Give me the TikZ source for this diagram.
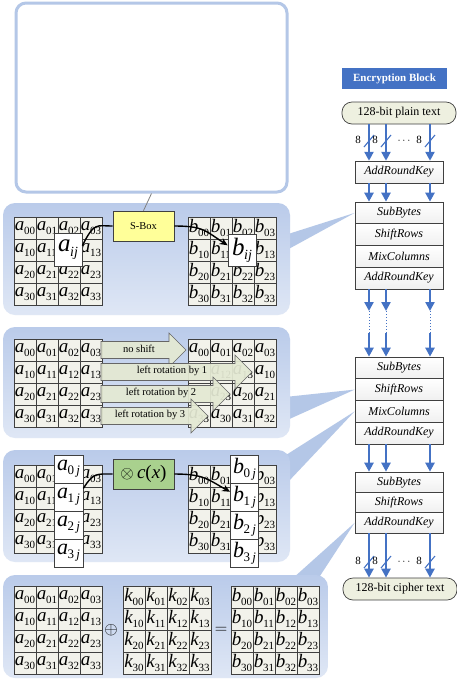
\documentclass[tikz,border=0pt]{standalone}
\usepackage{fontspec}
\setmainfont{Liberation Serif}
\usetikzlibrary{arrows.meta}
\definecolor{pedge}{HTML}{B4C7E7}
\definecolor{ptop}{HTML}{BACBEA}
\definecolor{pbot}{HTML}{DFE7F5}
\definecolor{cellf}{HTML}{F2F2EB}
\definecolor{gline}{HTML}{404040}
\definecolor{aro}{HTML}{4472C4}
\definecolor{sarr}{HTML}{E4E9D3}
\definecolor{sboxf}{HTML}{FFFF99}
\definecolor{mixf}{HTML}{A9D18E}
\definecolor{pillf}{HTML}{EEF0E0}
\definecolor{tailf}{HTML}{B4C7E7}
\newcommand\cellt[2]{{\fontsize{19}{19}\selectfont\itshape #1}\kern-0.3pt\raisebox{-3.5pt}{\fontsize{11}{11}\selectfont #2}}
\newcommand\bigt[2]{{\fontsize{25}{25}\selectfont\itshape #1}\kern-0.3pt\raisebox{-4.5pt}{\fontsize{14}{14}\selectfont\itshape #2}}
\newcommand\colt[2]{{\fontsize{22}{22}\selectfont\itshape #1}\kern-0.3pt\raisebox{-4pt}{\fontsize{13}{13}\selectfont #2\,\itshape j}}
% #1 name, #2 x0, #3 y0, #4 letter, #5 row shift, #6 blank condition (pgfmath, uses \ri \ci)
\newcommand\mygrid[6]{\foreach \ri in {0,...,3}{\foreach \ci in {0,...,3}{\pgfmathtruncatemacro\mysc{mod(\ci+#5*\ri,4)}\pgfmathtruncatemacro\myblank{#6}\node[cellbox] (#1-\ri\ci) at ({#2+(\ci+0.5)*22},{#3+(\ri+0.5)*22}) {\ifnum\myblank=1 \else\cellt{#4}{\ri\mysc}\fi};}}}
\newcommand\shiftarr[4]{\draw[sharrow] (101,{#1-8.5}) -- ({#2-17},{#1-8.5}) -- ({#2-17},{#1-17}) -- (#2,#1) -- ({#2-17},{#1+17}) -- ({#2-17},{#1+8.5}) -- (101,{#1+8.5}) -- cycle;
\node[shtext] (#4) at ({(101+#2-17)/2+4},{#1-1.5}) {#3};}
\begin{document}
\begin{tikzpicture}[x=1pt,y=-1pt,
  panel/.style={rounded corners=12pt, top color=ptop, bottom color=pbot, draw=none, inner sep=0pt},
  cellbox/.style={draw=gline, fill=cellf, line width=0.7pt, inner sep=0pt, minimum width=22pt, minimum height=22pt},
  hlbox/.style={draw=gline, fill=white, line width=0.7pt, inner sep=0pt},
  sboxst/.style={draw=gline, line width=0.7pt, fill=sboxf, minimum width=61pt, minimum height=30pt, font=\fontsize{10.5}{12}\selectfont},
  mixst/.style={draw=gline, line width=0.7pt, fill=mixf, minimum width=61pt, minimum height=30pt, font=\fontsize{19}{20}\selectfont},
  conn/.style={line width=1.4pt, black},
  sharrow/.style={draw=gray!80!black, line width=0.6pt, fill=sarr, fill opacity=0.93},
  shtext/.style={font=\fontsize{10.5}{12}\selectfont, inner sep=0pt},
  rowbox/.style={draw=gline, line width=0.7pt, top color=white, bottom color=black!6, minimum width=88pt, minimum height=21.75pt, inner sep=0pt, font=\fontsize{12}{14}\selectfont\itshape},
  pill/.style={draw=gline, line width=0.7pt, fill=pillf, rounded corners=10pt, minimum width=114pt, minimum height=22pt, font=\fontsize{12}{14}\selectfont},
  barrow/.style={draw=aro, line width=2.4pt, -{Triangle[width=9pt,length=9pt]}},
  bdot/.style={draw=aro, line width=1pt, dotted},
  slash/.style={draw=aro, line width=1.1pt},
  lab/.style={font=\fontsize{11}{12}\selectfont, inner sep=0pt},
  tail/.style={fill=tailf, draw=none}]
\useasboundingbox (0,0) rectangle (457,681);
\fill[white] (0,0) rectangle (457,681);

% ---------- top empty callout ----------
\node[draw=pedge, line width=3pt, rounded corners=10pt, fill=white, minimum width=271pt, minimum height=189pt] (topbox) at (151.5,97.5) {};

% ---------- right column ----------
\node[fill=aro, minimum width=105pt, minimum height=21pt, text=white, font=\fontsize{11}{12}\selectfont\bfseries] (hdr) at (394.5,78.5) {Encryption Block};
\node[pill] (plain) at (399,113) {128-bit plain text};
\node[rowbox] (ark0) at (399,172) {AddRoundKey};
\node[rowbox] (b1r1) at (399,212.9) {SubBytes};
\node[rowbox] (b1r2) at (399,234.6) {ShiftRows};
\node[rowbox] (b1r3) at (399,256.4) {MixColumns};
\node[rowbox] (b1r4) at (399,278.1) {AddRoundKey};
\node[rowbox] (b2r1) at (399,367.9) {SubBytes};
\node[rowbox] (b2r2) at (399,389.6) {ShiftRows};
\node[rowbox] (b2r3) at (399,411.4) {MixColumns};
\node[rowbox] (b2r4) at (399,433.1) {AddRoundKey};
\node[rowbox, minimum height=20.33pt] (b3r1) at (399,482.2) {SubBytes};
\node[rowbox, minimum height=20.33pt] (b3r2) at (399,502.5) {ShiftRows};
\node[rowbox, minimum height=20.33pt] (b3r3) at (399,522.8) {AddRoundKey};
\node[pill] (cipher) at (400,589) {128-bit cipher text};

% ---------- callout tails ----------
\coordinate (t1a) at (285,235); \coordinate (t1b) at (285,251);
\coordinate (t2a) at (285,397); \coordinate (t2b) at (285,421);
\coordinate (t3a) at (286,455); \coordinate (t3b) at (288,482);
\coordinate (t4a) at (292,579); \coordinate (t4b) at (318,579);
\fill[tail] (t1a) -- (b1r1.west) -- (t1b) -- cycle;
\fill[tail] (t2a) -- (b2r2.west) -- (t2b) -- cycle;
\fill[tail] (t3a) -- (b2r3.west) -- (t3b) -- cycle;
\fill[tail] (t4a) -- (b3r3.west) -- (t4b) -- cycle;

% ---------- panels ----------
\node[panel, minimum width=287pt, minimum height=112pt] (p1) at (146.5,259) {};
\node[panel, minimum width=287pt, minimum height=111pt] (p2) at (146.5,382.5) {};
\node[panel, minimum width=287pt, minimum height=112pt] (p3) at (146.5,506) {};
\node[panel, minimum width=325pt, minimum height=103pt] (p4) at (165.5,626.5) {};

% ---------- panel 1: SubBytes ----------
\mygrid{g1}{14}{217}{a}{0}{and(\ci==2,\ri==1)}
\mygrid{g2}{188}{217}{b}{0}{and(\ci==2,\ri==1)}
\node[hlbox, minimum width=28pt, minimum height=33pt] (aij) at (68,249.5) {\bigt{a}{ij}};
\node[hlbox, minimum width=28pt, minimum height=32pt] (bij) at (242,250.5) {\bigt{b}{ij}};
\node[sboxst] (sbox) at (143.5,226) {S-Box};
\draw[gray, line width=0.8pt] (topbox.south) -- (sbox.north);
\draw[conn] (aij.15) .. controls +(12,-24) and +(-16,0) .. (sbox.west);
\draw[conn,-{Stealth[length=8pt,width=7pt]}] (sbox.east) .. controls +(30,0) and +(-22,-14) .. (bij.160);

% ---------- panel 2: ShiftRows ----------
\mygrid{g3}{14}{339}{a}{0}{0}
\mygrid{g4}{188}{339}{a}{1}{and(\ci==0,or(\ri==1,\ri==2))}
\shiftarr{350}{186}{no shift}{s0}
\shiftarr{372}{252}{left rotation by 1}{s1}
\shiftarr{394}{230}{left rotation by 2}{s2}
\shiftarr{416}{208}{left rotation by 3}{s3}

% ---------- panel 3: MixColumns ----------
\mygrid{g5}{14}{465}{a}{0}{\ci==2}
\mygrid{g6}{188}{465}{b}{0}{\ci==2}
\foreach \k/\yy in {0/469,1/497,2/525,3/553}{
  \node[hlbox, minimum width=29pt, minimum height=28pt] (a\k j) at (68.5,\yy) {\colt{a}{\k}};
  \node[hlbox, minimum width=28pt, minimum height=28pt] (b\k j) at (244.5,\yy) {\colt{b}{\k}};
}
\node[mixst] (mixb) at (143.5,474) {$\otimes$\,\textit{c}(\textit{x})};
\draw[conn] (a1j.30) .. controls +(10,-16) and +(-16,0) .. (mixb.west);
\draw[conn,-{Stealth[length=8pt,width=7pt]}] (mixb.east) .. controls +(30,0) and +(-22,-12) .. (b1j.160);

% ---------- panel 4: AddRoundKey ----------
\mygrid{g7}{14}{586}{a}{0}{0}
\mygrid{g8}{123}{586}{k}{0}{0}
\mygrid{g9}{231}{586}{b}{0}{0}
\node[inner sep=0pt, font=\fontsize{16}{16}\selectfont] (oplus) at (111,630) {$\oplus$};
\node[inner sep=0pt, font=\fontsize{16}{16}\selectfont] (eq) at (221,630) {$=$};

% ---------- blue arrows ----------
\coordinate (xA) at (369,0); \coordinate (xB) at (386,0); \coordinate (xC) at (430,0);
\coordinate (d1) at (0,311); \coordinate (d2) at (0,333);
\foreach \k in {xA,xB,xC}{
  \draw[barrow] (\k |- plain.south) -- (\k |- ark0.north);
  \draw[barrow] (\k |- ark0.south) -- (\k |- b1r1.north);
  \draw[barrow] (\k |- b1r4.south) -- (\k |- d1);
  \draw[bdot] (\k |- d1) -- (\k |- d2);
  \draw[barrow] (\k |- d2) -- (\k |- b2r1.north);
  \draw[barrow] (\k |- b2r4.south) -- (\k |- b3r1.north);
  \draw[barrow] (\k |- b3r3.south) -- (\k |- cipher.north);
}
% bit-width marks
\foreach \yy/\n in {141/t,562/b}{
  \foreach \xx/\m in {369/1,386/2,430/3}{
    \draw[slash] ({\xx-5},{\yy+6}) -- ({\xx+5},{\yy-6});
    \node[lab] (eight\n\m) at ({\xx-11},{\yy-1}) {8};
  }
  \node[lab] (dots\n) at (404,\yy) {$\cdots$};
}
\end{tikzpicture}
\end{document}
